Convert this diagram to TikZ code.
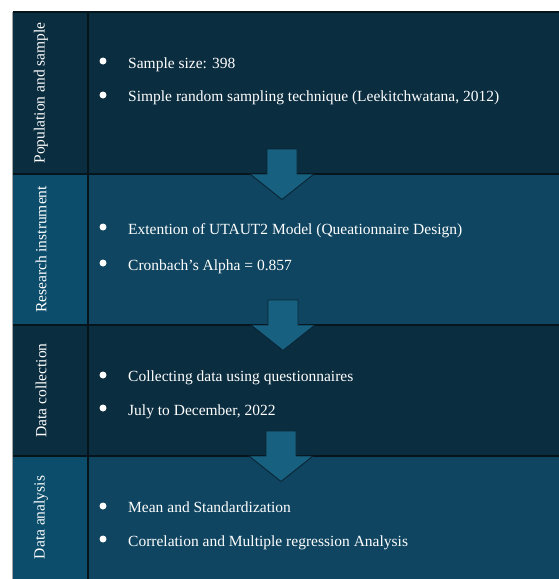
\documentclass[tikz,border=0pt]{standalone}
\usepackage{fontspec}
\setmainfont{Liberation Serif}
\definecolor{rowdark}{HTML}{0B2D40}
\definecolor{rowmid}{HTML}{0F4560}
\definecolor{labmid}{HTML}{0B4D6B}
\definecolor{arrfill}{HTML}{17607F}
\definecolor{arredge}{HTML}{0A2535}
\definecolor{gridline}{HTML}{06141C}
\begin{document}
\begin{tikzpicture}[x=1pt,y=-1pt,
  bulletdot/.style={circle, fill=white, inner sep=0pt, minimum size=7pt},
  itemtext/.style={anchor=base west, text=white, font=\fontsize{15.5}{18}\selectfont, inner sep=0pt},
  lanelabel/.style={rotate=90, text=white, font=\fontsize{15.5}{18}\selectfont, inner sep=0pt},
  flowarrow/.style={fill=arrfill, draw=arredge, line width=0.9pt, line join=miter},
  gridrule/.style={draw=gridline, line width=1.2pt}]
\useasboundingbox (0,0) rectangle (559,579);
% row backgrounds
\fill[rowdark] (12.5,12) rectangle (559,174);
\fill[rowmid]  (12.5,174) rectangle (559,325);
\fill[labmid]  (12.5,174) rectangle (88,325);
\fill[rowdark] (12.5,325) rectangle (559,456);
\fill[rowmid]  (12.5,456) rectangle (559,579);
\fill[labmid]  (12.5,456) rectangle (88,579);
% grid lines
\draw[gridrule] (12.5,12) -- (559,12);
\draw[gridrule] (12.5,174) -- (559,174);
\draw[gridrule] (12.5,325) -- (559,325);
\draw[gridrule] (12.5,456) -- (559,456);
\draw[gridrule] (88,12) -- (88,579);
\draw[draw=gray!70, line width=1pt] (12.5,12) -- (12.5,579);
% lane labels
\node[lanelabel] (l1) at (41,93) {Population and sample};
\node[lanelabel] (l2) at (41,249.5) {Research instrument};
\node[lanelabel] (l3) at (41,390.5) {Data collection};
\node[lanelabel] (l4) at (41,517.5) {Data analysis};
% items
\node[bulletdot] (b11) at (103,61) {};
\node[itemtext] (t11) at (128,68) {Sample size: 398};
\node[bulletdot] (b12) at (103,95) {};
\node[itemtext] (t12) at (128,101.5) {Simple random sampling technique (Leekitchwatana, 2012)};
\node[bulletdot] (b21) at (103,227) {};
\node[itemtext] (t21) at (128,234) {Extention of UTAUT2 Model (Queationnaire Design)};
\node[bulletdot] (b22) at (103,263) {};
\node[itemtext] (t22) at (128,270) {Cronbach’s Alpha = 0.857};
\node[bulletdot] (b31) at (103,375) {};
\node[itemtext] (t31) at (128,381.5) {Collecting data using questionnaires};
\node[bulletdot] (b32) at (103,408) {};
\node[itemtext] (t32) at (128,415) {July to December, 2022};
\node[bulletdot] (b41) at (103,506) {};
\node[itemtext] (t41) at (128,512.5) {Mean and Standardization};
\node[bulletdot] (b42) at (103,539) {};
\node[itemtext] (t42) at (128,546) {Correlation and Multiple regression Analysis};
% flow arrows between rows
\coordinate (a1) at (282,174);
\coordinate (a2) at (283,325);
\coordinate (a3) at (281,456);
\foreach \c in {a1,a2,a3}{
  \draw[flowarrow] ([shift={(-15,-25)}]\c) -- ([shift={(15,-25)}]\c) -- ([shift={(15,0)}]\c)
    -- ([shift={(32,0)}]\c) -- ([shift={(0,25.5)}]\c) -- ([shift={(-32,0)}]\c)
    -- ([shift={(-15,0)}]\c) -- cycle;
}
\end{tikzpicture}
\end{document}
